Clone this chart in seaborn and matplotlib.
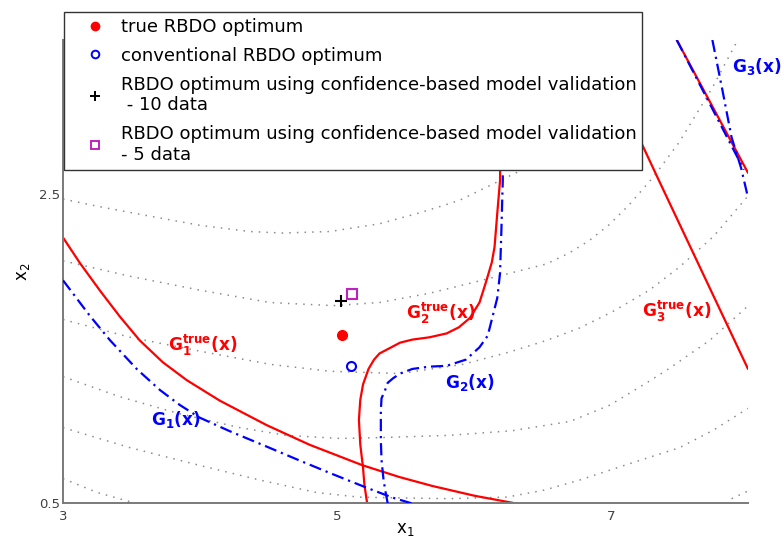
import numpy as np
import pandas as pd
import matplotlib
matplotlib.use("Agg")
import matplotlib.pyplot as plt
from matplotlib.lines import Line2D
import seaborn as sns

# ---------------- data ----------------
xlim = (3.0, 8.0)
ylim = (0.5, 3.5)
xticks = [3, 5, 7]
yticks = [0.5, 2.5]

# optimum points
true_opt = (5.04, 1.59)
conv_opt = (5.10, 1.39)
opt10 = (5.03, 1.81)
opt5 = (5.11, 1.855)

# limit-state curves
g1_true_x = [3.00, 3.124, 3.27, 3.415, 3.561, 3.729, 3.904, 4.144, 4.487, 4.80, 5.187, 5.456, 5.697, 6.003, 6.30]
g1_true_y = [2.221, 2.055, 1.877, 1.709, 1.554, 1.413, 1.297, 1.165, 1.006, 0.879, 0.746, 0.670, 0.612, 0.549, 0.50]
g1_x = [3.00, 3.197, 3.343, 3.539, 3.707, 3.852, 3.997, 4.217, 4.487, 4.727, 4.968, 5.216, 5.405, 5.544]
g1_y = [1.944, 1.713, 1.556, 1.369, 1.234, 1.137, 1.055, 0.967, 0.867, 0.777, 0.689, 0.601, 0.537, 0.50]

g2_true_x = [5.22, 5.20, 5.19, 5.17, 5.16, 5.17, 5.19, 5.23, 5.27, 5.31, 5.46, 5.55, 5.675,
             5.80, 5.89, 5.97, 6.04, 6.09, 6.13, 6.15, 6.17, 6.19, 6.20]
g2_true_y = [0.50, 0.62, 0.73, 0.88, 1.04, 1.17, 1.27, 1.37, 1.43, 1.47, 1.54, 1.56, 1.575,
             1.60, 1.64, 1.70, 1.80, 1.94, 2.06, 2.16, 2.38, 2.59, 3.50]
g2_x = [5.37, 5.355, 5.34, 5.325, 5.32, 5.32, 5.325, 5.35, 5.37, 5.41, 5.46, 5.55, 5.675,
        5.80, 5.94, 6.04, 6.10, 6.13, 6.17, 6.19, 6.20, 6.21, 6.21]
g2_y = [0.50, 0.57, 0.65, 0.78, 0.91, 1.10, 1.18, 1.23, 1.28, 1.31, 1.34, 1.37, 1.385,
        1.39, 1.43, 1.51, 1.585, 1.69, 1.83, 1.99, 2.27, 2.59, 3.50]

g3_true_x = [6.87, 7.35, 8.00]
g3_true_y = [3.50, 2.59, 1.37]
g3_true_b_x = [7.48, 8.00]
g3_true_b_y = [3.50, 2.64]
g3_a_x = [7.48, 7.97]
g3_a_y = [3.50, 2.66]
g3_b_x = [7.74, 7.81, 7.88, 7.95, 8.00]
g3_b_y = [3.50, 3.19, 2.87, 2.67, 2.48]

# dotted objective contours
c1_x = [3.00, 3.27, 3.63, 4.00, 4.36, 4.60, 4.95, 5.31, 5.60, 5.89, 6.33, 6.77, 7.06, 7.24]
c1_y = [2.47, 2.42, 2.36, 2.30, 2.26, 2.25, 2.26, 2.31, 2.38, 2.46, 2.65, 2.93, 3.24, 3.50]
c2_x = [3.00, 3.49, 4.00, 4.51, 4.97, 5.31, 5.675, 6.04, 6.53, 6.695, 6.841, 6.987, 7.133, 7.315, 7.497, 7.738, 7.925]
c2_y = [2.07, 1.97, 1.88, 1.80, 1.78, 1.80, 1.86, 1.94, 2.05, 2.121, 2.201, 2.304, 2.433, 2.619, 2.837, 3.188, 3.50]
c3_x = [3.00, 3.49, 4.00, 4.51, 4.95, 5.46, 5.92, 6.26, 6.53, 6.77, 7.01, 7.28, 7.50, 7.75, 7.99]
c3_y = [1.69, 1.575, 1.485, 1.40, 1.355, 1.34, 1.40, 1.48, 1.555, 1.635, 1.74, 1.88, 2.03, 2.23, 2.48]
c4_x = [3.00, 3.415, 3.85, 4.29, 4.63, 5.02, 5.31, 5.82, 6.28, 6.70, 6.99, 7.26, 7.42, 7.72, 7.99]
c4_y = [1.32, 1.19, 1.08, 0.99, 0.94, 0.92, 0.925, 0.94, 0.97, 1.03, 1.135, 1.28, 1.37, 1.555, 1.77]
c5_x = [3.00, 3.49, 4.00, 4.44, 4.85, 5.16, 5.46, 5.82, 6.24, 6.51, 6.77, 7.13, 7.50, 7.75, 8.00]
c5_y = [0.99, 0.86, 0.745, 0.65, 0.57, 0.54, 0.535, 0.53, 0.54, 0.585, 0.65, 0.755, 0.86, 0.975, 1.115]
c6a_x = [3.00, 3.25, 3.51]
c6a_y = [0.66, 0.57, 0.505]
c6b_x = [7.88, 8.00]
c6b_y = [0.53, 0.58]

legend_labels = [
    "true RBDO optimum",
    "conventional RBDO optimum",
    "RBDO optimum using confidence-based model validation\n - 10 data",
    "RBDO optimum using confidence-based model validation\n- 5 data",
]

# ---------------- style ----------------
sns.set_theme(style="white")
plt.rcParams["font.family"] = ["DejaVu Sans"]
plt.rcParams["mathtext.fontset"] = "custom"
plt.rcParams["mathtext.rm"] = "DejaVu Sans"
plt.rcParams["mathtext.bf"] = "DejaVu Sans:bold"
plt.rcParams["mathtext.it"] = "DejaVu Sans"

RED = "#ff0000"
BLUE = "#0000ff"
DOT = "#8c8c8c"
DASHDOT = (0, (5.5, 2.2, 1.0, 2.2))

fig = plt.figure(figsize=(7.82, 5.41), dpi=100)
ax = fig.add_axes([63 / 782, 37.7 / 541, 685 / 782, 463.3 / 541])


def curve(xs, ys, color, lw, ls, z=2):
    df = pd.DataFrame({"x": xs, "y": ys})
    sns.lineplot(data=df, x="x", y="y", ax=ax, sort=False, estimator=None,
                 color=color, linewidth=lw, linestyle=ls, zorder=z)


for cx, cy in [(c1_x, c1_y), (c2_x, c2_y), (c3_x, c3_y), (c4_x, c4_y),
               (c5_x, c5_y), (c6a_x, c6a_y), (c6b_x, c6b_y)]:
    curve(cx, cy, DOT, 1.1, (0, (1, 4)), z=1)

curve(g1_true_x, g1_true_y, RED, 1.6, "-")
curve(g2_true_x, g2_true_y, RED, 1.6, "-")
curve(g3_true_x, g3_true_y, RED, 1.6, "-")
curve(g3_true_b_x, g3_true_b_y, RED, 1.6, "-")
curve(g1_x, g1_y, BLUE, 1.6, DASHDOT, z=3)
curve(g2_x, g2_y, BLUE, 1.6, DASHDOT, z=3)
curve(g3_a_x, g3_a_y, BLUE, 1.6, DASHDOT, z=3)
curve(g3_b_x, g3_b_y, BLUE, 1.6, DASHDOT, z=3)

# optimum points
ax.plot([true_opt[0]], [true_opt[1]], "o", color=RED, ms=7, zorder=5)
ax.plot([conv_opt[0]], [conv_opt[1]], "o", mfc="none", mec=BLUE, mew=1.5, ms=6.5, zorder=5)
ax.plot([opt10[0]], [opt10[1]], "+", color="black", ms=8, mew=1.5, zorder=5)
ax.plot([opt5[0]], [opt5[1]], "s", mfc="none", mec="#c020c0", mew=1.5, ms=7, zorder=5)

# curve labels
lab_kw = dict(fontsize=12.2, ha="center", va="center", zorder=6)
ax.text(4.02, 1.52, r"$\mathbf{G_1^{true}(x)}$", color=RED, **lab_kw)
ax.text(3.82, 1.04, r"$\mathbf{G_1(x)}$", color=BLUE, **lab_kw)
ax.text(5.76, 1.73, r"$\mathbf{G_2^{true}(x)}$", color=RED, **lab_kw)
ax.text(5.97, 1.28, r"$\mathbf{G_2(x)}$", color=BLUE, **lab_kw)
ax.text(7.48, 1.74, r"$\mathbf{G_3^{true}(x)}$", color=RED, **lab_kw)
ax.text(8.065, 3.33, r"$\mathbf{G_3(x)}$", color=BLUE, clip_on=False, **lab_kw)

# axes styling
ax.set_xlim(*xlim)
ax.set_ylim(*ylim)
ax.set_xticks(xticks)
ax.set_xticklabels([str(t) for t in xticks])
ax.set_yticks(yticks)
ax.set_yticklabels([str(t) for t in yticks])
for s in ["top", "right"]:
    ax.spines[s].set_visible(False)
for s in ["left", "bottom"]:
    ax.spines[s].set_color("#7a7a7a")
    ax.spines[s].set_linewidth(1.4)
ax.tick_params(direction="in", length=4, width=1, color="#555555",
               labelcolor="#404040", labelsize=9.5)
ax.tick_params(axis="y", pad=2)
ax.tick_params(axis="x", pad=5)
ax.set_xlabel(r"$\mathrm{x_1}$", fontsize=12, color="black", labelpad=-2)
ax.set_ylabel(r"$\mathrm{x_2}$", fontsize=12, color="black", labelpad=5)

# legend
handles = [
    Line2D([], [], ls="none", marker="o", color=RED, ms=6),
    Line2D([], [], ls="none", marker="o", mfc="none", mec=BLUE, mew=1.4, ms=5.5),
    Line2D([], [], ls="none", marker="+", color="black", ms=7, mew=1.4),
    Line2D([], [], ls="none", marker="s", mfc="none", mec="#c020c0", mew=1.4, ms=6),
]
leg = fig.legend(handles, legend_labels, loc="upper left",
                 bbox_to_anchor=(64 / 782, 1 - 12 / 541), bbox_transform=fig.transFigure,
                 fontsize=13.0, frameon=True, fancybox=False, shadow=False,
                 framealpha=1, edgecolor="#333333", borderpad=0.33,
                 labelspacing=0.6, handlelength=2.8, handletextpad=0.0,
                 borderaxespad=0, labelcolor="black")
leg.get_frame().set_linewidth(1.0)
leg.set_zorder(10)

fig.savefig("out.png", dpi=100)
